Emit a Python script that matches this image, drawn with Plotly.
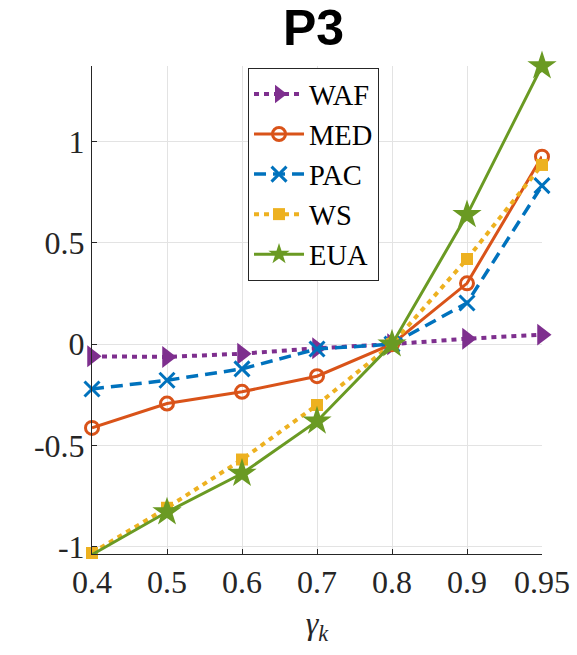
import plotly.graph_objects as go

gamma_labels = ["0.4", "0.5", "0.6", "0.7", "0.8", "0.9", "0.95"]
series_names = ["WAF", "MED", "PAC", "WS", "EUA"]
waf = [-0.060, -0.063, -0.047, -0.020, 0.0, 0.027, 0.047]
med = [-0.413, -0.293, -0.235, -0.158, 0.0, 0.300, 0.925]
pac = [-0.221, -0.178, -0.122, -0.024, 0.0, 0.203, 0.782]
ws = [-1.030, -0.807, -0.569, -0.300, 0.0, 0.420, 0.884]
eua = [-1.038, -0.828, -0.638, -0.380, 0.0, 0.638, 1.372]
y_tickvals = [-1, -0.5, 0, 0.5, 1]
y_ticktext = ["-1", "-0.5", "0", "0.5", "1"]

colors = ["#7E2F8E", "#D95319", "#0072BD", "#EDB120", "#6A9A23"]
dashes = ["5px,5px", "solid", "12px,7px", "5px,5px", "solid"]
widths = [4, 3, 3.5, 4, 3]
symbols = ["triangle-right", "circle-open", "x-thin-open", "square", "star"]
msizes = [19, 13, 15, 12, 22]
values = [waf, med, pac, ws, eua]

fig = go.Figure()
for name, vals, c, d, w, s, ms in zip(series_names, values, colors, dashes, widths, symbols, msizes):
    fig.add_trace(go.Scatter(
        x=gamma_labels, y=vals, name=name, mode="lines+markers",
        line=dict(color=c, width=w, dash=d),
        marker=dict(symbol=s, size=ms, color=c, line=dict(color=c, width=3 if "open" in s else 0)),
        cliponaxis=False,
    ))

serif = "Liberation Serif, DejaVu Serif, serif"
fig.update_layout(
    width=577, height=655,
    margin=dict(l=92, r=35, t=66, b=101, autoexpand=False),
    paper_bgcolor="white", plot_bgcolor="white",
    font=dict(family=serif, size=32, color="#262626"),
    showlegend=True,
    legend=dict(
        x=0.3467, y=0.996, xanchor="left", yanchor="top",
        bgcolor="white", bordercolor="#262626", borderwidth=1,
        font=dict(family=serif, size=28.5, color="black"),
        tracegroupgap=0, itemwidth=50,
        entrywidth=78, entrywidthmode="pixels",
    ),
    xaxis=dict(
        type="category", range=[0, 6], automargin=False,
        showgrid=True, gridcolor="#E3E3E3", gridwidth=1,
        showline=True, linecolor="#262626", linewidth=1,
        ticks="inside", ticklen=5, tickcolor="#262626",
        tickfont=dict(family=serif, size=32, color="#262626"),
        zeroline=False, mirror=False,
        title=dict(text="<i>γ</i><sub><i>k</i></sub>", font=dict(family=serif, size=32, color="#262626"), standoff=12),
    ),
    yaxis=dict(
        range=[-1.035, 1.372], automargin=False,
        tickvals=y_tickvals, ticktext=y_ticktext,
        showgrid=True, gridcolor="#E3E3E3", gridwidth=1,
        showline=True, linecolor="#262626", linewidth=1,
        ticks="inside", ticklen=5, tickcolor="#262626",
        tickfont=dict(family=serif, size=32, color="#262626"),
        zeroline=False, mirror=False,
    ),
)
fig.add_annotation(
    text="<b>P3</b>", xref="paper", yref="paper", x=0.493, y=1.077,
    xanchor="center", yanchor="middle", showarrow=False,
    font=dict(family="Liberation Sans, Arial, sans-serif", size=50, color="black"),
)
fig.write_html("out.html")
